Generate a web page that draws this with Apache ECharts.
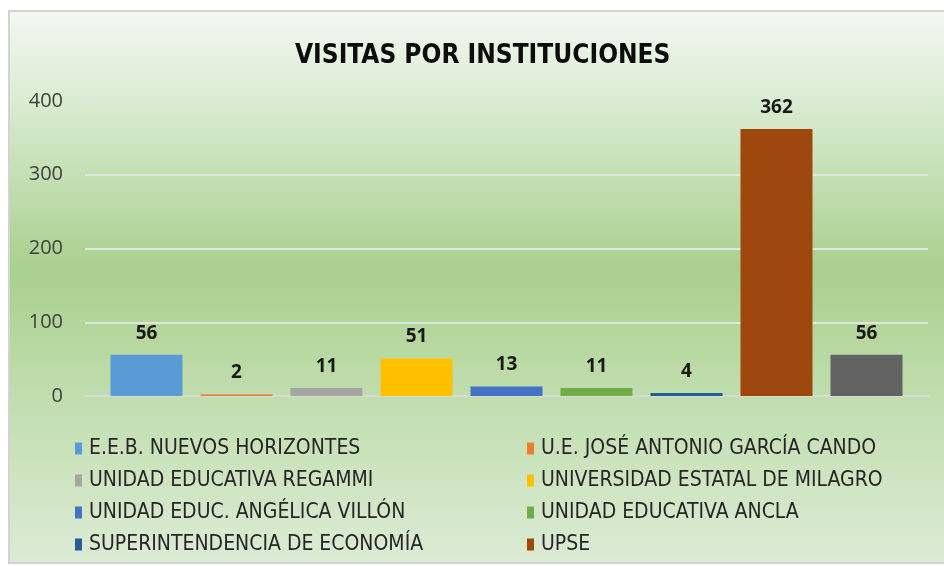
<!DOCTYPE html>
<html>
<head>
<meta charset="utf-8">
<script src="https://cdn.jsdelivr.net/npm/echarts@6/dist/echarts.min.js"></script>
<style>
  html, body { margin: 0; padding: 0; background: #fff; }
  #chart { width: 944px; height: 566px; }
</style>
</head>
<body>
<div id="chart"></div>
<script>
// data
const institutions = [
  'E.E.B. NUEVOS HORIZONTES',
  'U.E. JOSÉ ANTONIO GARCÍA CANDO',
  'UNIDAD EDUCATIVA REGAMMI',
  'UNIVERSIDAD ESTATAL DE MILAGRO',
  'UNIDAD EDUC. ANGÉLICA VILLÓN',
  'UNIDAD EDUCATIVA ANCLA',
  'SUPERINTENDENCIA DE ECONOMÍA',
  'UPSE',
  'OTROS'
]
const visits = [56, 2, 11, 51, 13, 11, 4, 362, 56]
const colors = ['#5b9bd5', '#ed7d31', '#a5a5a5', '#ffc000', '#4472c4', '#70ad47', '#255e91', '#9e480e', '#636363']
const yTicks = [0, 100, 200, 300, 400]

const font = "'DejaVu Sans Condensed', 'Liberation Sans', sans-serif"

const chart = echarts.init(document.getElementById('chart'), null, { renderer: 'canvas' })

const series = institutions.map((name, i) => ({
  name: name,
  type: 'bar',
  data: [visits[i]],
  barWidth: 72,
  barGap: '25%',
  itemStyle: { color: colors[i] },
  label: {
    show: true,
    position: 'top',
    distance: 12,
    color: '#1a1a1a',
    fontWeight: 'bold',
    fontSize: 19,
    fontFamily: 'Open Sans, sans-serif'
  }
}))

// legend in two columns, last series has no entry
const shown = institutions.slice(0, 8)
const legendStyle = {
  orient: 'vertical',
  icon: 'rect',
  itemWidth: 7,
  itemHeight: 12,
  itemGap: 11,
  textStyle: { fontSize: 21, color: '#262626', fontFamily: font, lineHeight: 21, padding: [0, 0, 0, 2] }
}

chart.setOption({
  animation: false,
  color: colors,
  graphic: [{
    type: 'rect',
    z: -10,
    silent: true,
    shape: { x: 9, y: 11, width: 1000, height: 552 },
    style: {
      stroke: '#d3d3d3',
      lineWidth: 2,
      fill: {
        type: 'linear', x: 0, y: 0, x2: 0, y2: 1,
        colorStops: [
          { offset: 0, color: '#f3f8f1' },
          { offset: 0.15, color: '#dcedd4' },
          { offset: 0.47, color: '#a9d08e' },
          { offset: 0.72, color: '#c3dfb1' },
          { offset: 1, color: '#dcebd5' }
        ]
      }
    }
  }],
  title: {
    text: 'VISITAS POR INSTITUCIONES',
    left: 290,
    top: 38,
    textStyle: { fontSize: 26, fontWeight: 'bold', color: '#0d0d0d', fontFamily: font }
  },
  legend: [
    Object.assign({ left: 70, top: 433, data: shown.filter((n, i) => i % 2 === 0) }, legendStyle),
    Object.assign({ left: 522, top: 433, data: shown.filter((n, i) => i % 2 === 1) }, legendStyle)
  ],
  grid: { left: 85, right: 16, top: 101, bottom: 170 },
  xAxis: {
    type: 'category',
    data: [''],
    axisLine: { lineStyle: { color: '#d9d9d9', width: 2 } },
    axisTick: { show: false },
    axisLabel: { show: false }
  },
  yAxis: {
    type: 'value',
    min: yTicks[0],
    max: yTicks[yTicks.length - 1],
    interval: 100,
    axisLine: { show: false },
    axisTick: { show: false },
    axisLabel: { fontSize: 20, color: '#404040', margin: 22, fontFamily: 'Open Sans, sans-serif' },
    splitLine: { lineStyle: { color: '#dfe6dc', width: 2 } }
  },
  series: series
})
</script>
</body>
</html>
